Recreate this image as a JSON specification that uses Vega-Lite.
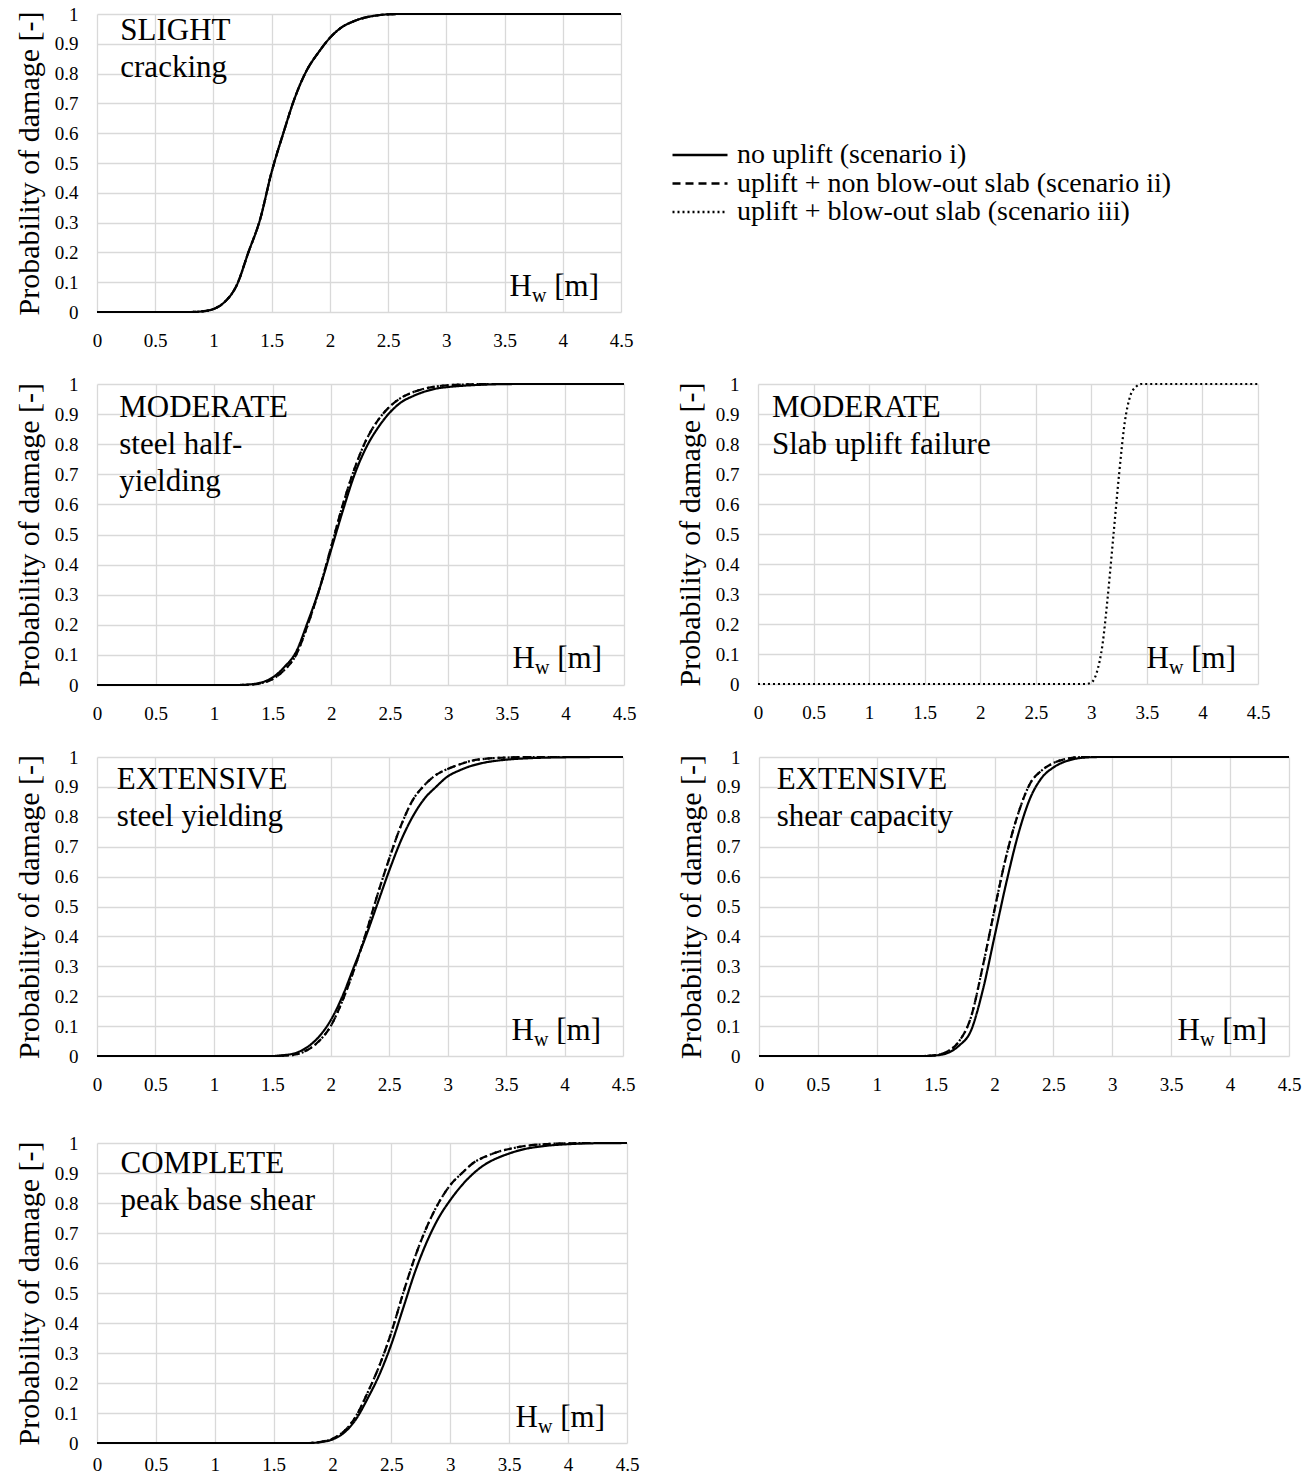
{
"$schema": "https://vega.github.io/schema/vega-lite/v6.json",
"padding": {"left": 14, "top": 5, "right": 5, "bottom": 0},
"background": "white",
"datasets": {
"S": [{"x":0,"i":0,"ii":0,"iii":0},{"x":0.5,"i":0,"ii":0,"iii":0},{"x":0.8,"i":0,"ii":0,"iii":0},{"x":0.9,"i":0.002,"ii":0.002,"iii":0.002},{"x":1,"i":0.01,"ii":0.01,"iii":0.01},{"x":1.1,"i":0.035,"ii":0.035,"iii":0.035},{"x":1.2,"i":0.09,"ii":0.09,"iii":0.09},{"x":1.3,"i":0.2,"ii":0.2,"iii":0.2},{"x":1.4,"i":0.31,"ii":0.31,"iii":0.31},{"x":1.5,"i":0.47,"ii":0.47,"iii":0.47},{"x":1.6,"i":0.6,"ii":0.6,"iii":0.6},{"x":1.7,"i":0.72,"ii":0.72,"iii":0.72},{"x":1.8,"i":0.81,"ii":0.81,"iii":0.81},{"x":1.9,"i":0.87,"ii":0.87,"iii":0.87},{"x":2,"i":0.92,"ii":0.92,"iii":0.92},{"x":2.1,"i":0.955,"ii":0.955,"iii":0.955},{"x":2.2,"i":0.975,"ii":0.975,"iii":0.975},{"x":2.3,"i":0.988,"ii":0.988,"iii":0.988},{"x":2.4,"i":0.995,"ii":0.995,"iii":0.995},{"x":2.5,"i":0.999,"ii":0.999,"iii":0.999},{"x":2.6,"i":1,"ii":1,"iii":1},{"x":4.5,"i":1,"ii":1,"iii":1}],
"M1": [{"x":0,"i":0,"ii":0,"iii":0},{"x":1.2,"i":0,"ii":0,"iii":0},{"x":1.3,"i":0.002,"ii":0.001,"iii":0.001},{"x":1.4,"i":0.008,"ii":0.006,"iii":0.006},{"x":1.5,"i":0.025,"ii":0.02,"iii":0.02},{"x":1.6,"i":0.06,"ii":0.05,"iii":0.05},{"x":1.7,"i":0.11,"ii":0.1,"iii":0.1},{"x":1.8,"i":0.21,"ii":0.2,"iii":0.2},{"x":1.9,"i":0.32,"ii":0.32,"iii":0.32},{"x":2,"i":0.45,"ii":0.46,"iii":0.46},{"x":2.1,"i":0.58,"ii":0.6,"iii":0.6},{"x":2.2,"i":0.7,"ii":0.72,"iii":0.72},{"x":2.3,"i":0.79,"ii":0.815,"iii":0.815},{"x":2.4,"i":0.855,"ii":0.88,"iii":0.88},{"x":2.5,"i":0.905,"ii":0.925,"iii":0.925},{"x":2.6,"i":0.94,"ii":0.955,"iii":0.955},{"x":2.7,"i":0.96,"ii":0.973,"iii":0.973},{"x":2.8,"i":0.975,"ii":0.985,"iii":0.985},{"x":2.9,"i":0.985,"ii":0.992,"iii":0.992},{"x":3,"i":0.99,"ii":0.996,"iii":0.996},{"x":3.2,"i":0.996,"ii":0.999,"iii":0.999},{"x":3.4,"i":0.999,"ii":1,"iii":1},{"x":3.6,"i":1,"ii":1,"iii":1},{"x":4.5,"i":1,"ii":1,"iii":1}],
"M2": [{"x":0,"iii":0},{"x":2.95,"iii":0},{"x":3,"iii":0.005},{"x":3.05,"iii":0.04},{"x":3.1,"iii":0.13},{"x":3.15,"iii":0.3},{"x":3.2,"iii":0.5},{"x":3.25,"iii":0.7},{"x":3.3,"iii":0.87},{"x":3.35,"iii":0.96},{"x":3.4,"iii":0.99},{"x":3.45,"iii":1},{"x":4.5,"iii":1}],
"E1": [{"x":0,"i":0,"ii":0,"iii":0},{"x":1.5,"i":0,"ii":0,"iii":0},{"x":1.6,"i":0.003,"ii":0.001,"iii":0.001},{"x":1.7,"i":0.01,"ii":0.005,"iii":0.005},{"x":1.8,"i":0.03,"ii":0.02,"iii":0.02},{"x":1.9,"i":0.065,"ii":0.05,"iii":0.05},{"x":2,"i":0.12,"ii":0.1,"iii":0.1},{"x":2.1,"i":0.2,"ii":0.185,"iii":0.185},{"x":2.2,"i":0.3,"ii":0.29,"iii":0.29},{"x":2.3,"i":0.4,"ii":0.41,"iii":0.41},{"x":2.4,"i":0.51,"ii":0.54,"iii":0.54},{"x":2.5,"i":0.62,"ii":0.66,"iii":0.66},{"x":2.6,"i":0.72,"ii":0.77,"iii":0.77},{"x":2.7,"i":0.8,"ii":0.855,"iii":0.855},{"x":2.8,"i":0.86,"ii":0.905,"iii":0.905},{"x":2.9,"i":0.9,"ii":0.94,"iii":0.94},{"x":3,"i":0.935,"ii":0.96,"iii":0.96},{"x":3.1,"i":0.955,"ii":0.975,"iii":0.975},{"x":3.2,"i":0.97,"ii":0.987,"iii":0.987},{"x":3.3,"i":0.98,"ii":0.993,"iii":0.993},{"x":3.5,"i":0.991,"ii":0.998,"iii":0.998},{"x":3.7,"i":0.996,"ii":1,"iii":1},{"x":4,"i":0.999,"ii":1,"iii":1},{"x":4.3,"i":1,"ii":1,"iii":1},{"x":4.5,"i":1,"ii":1,"iii":1}],
"E2": [{"x":0,"i":0,"ii":0,"iii":0},{"x":1.4,"i":0,"ii":0,"iii":0},{"x":1.5,"i":0.002,"ii":0.003,"iii":0.003},{"x":1.6,"i":0.01,"ii":0.015,"iii":0.015},{"x":1.7,"i":0.035,"ii":0.05,"iii":0.05},{"x":1.8,"i":0.085,"ii":0.13,"iii":0.13},{"x":1.9,"i":0.22,"ii":0.3,"iii":0.3},{"x":2,"i":0.4,"ii":0.49,"iii":0.49},{"x":2.1,"i":0.58,"ii":0.67,"iii":0.67},{"x":2.2,"i":0.74,"ii":0.81,"iii":0.81},{"x":2.3,"i":0.86,"ii":0.91,"iii":0.91},{"x":2.4,"i":0.93,"ii":0.955,"iii":0.955},{"x":2.5,"i":0.965,"ii":0.98,"iii":0.98},{"x":2.6,"i":0.985,"ii":0.993,"iii":0.993},{"x":2.7,"i":0.995,"ii":0.999,"iii":0.999},{"x":2.8,"i":0.999,"ii":1,"iii":1},{"x":2.9,"i":1,"ii":1,"iii":1},{"x":4.5,"i":1,"ii":1,"iii":1}],
"C": [{"x":0,"i":0,"ii":0,"iii":0},{"x":1.8,"i":0,"ii":0,"iii":0},{"x":1.9,"i":0.003,"ii":0.004,"iii":0.004},{"x":2,"i":0.012,"ii":0.014,"iii":0.014},{"x":2.1,"i":0.035,"ii":0.04,"iii":0.04},{"x":2.2,"i":0.08,"ii":0.09,"iii":0.09},{"x":2.3,"i":0.15,"ii":0.17,"iii":0.17},{"x":2.4,"i":0.23,"ii":0.26,"iii":0.26},{"x":2.5,"i":0.33,"ii":0.37,"iii":0.37},{"x":2.6,"i":0.45,"ii":0.5,"iii":0.5},{"x":2.7,"i":0.57,"ii":0.62,"iii":0.62},{"x":2.8,"i":0.67,"ii":0.72,"iii":0.72},{"x":2.9,"i":0.75,"ii":0.8,"iii":0.8},{"x":3,"i":0.81,"ii":0.86,"iii":0.86},{"x":3.1,"i":0.86,"ii":0.9,"iii":0.9},{"x":3.2,"i":0.9,"ii":0.935,"iii":0.935},{"x":3.3,"i":0.93,"ii":0.955,"iii":0.955},{"x":3.4,"i":0.95,"ii":0.97,"iii":0.97},{"x":3.5,"i":0.965,"ii":0.98,"iii":0.98},{"x":3.6,"i":0.977,"ii":0.988,"iii":0.988},{"x":3.8,"i":0.99,"ii":0.996,"iii":0.996},{"x":4,"i":0.996,"ii":0.999,"iii":0.999},{"x":4.2,"i":0.999,"ii":1,"iii":1},{"x":4.5,"i":1,"ii":1,"iii":1}]
},
"spacing": 40,
"vconcat": [
{"spacing": 25, "vconcat": [
{"width": 524, "height": 298, "layer": [
 {"data": {"name": "S"}, "transform": [{"fold": ["i","ii","iii"], "as": ["s","p"]}, {"filter": {"field": "p", "valid": true}}],
  "mark": {"type": "line", "color": "black", "strokeWidth": 2.2, "interpolate": "monotone"},
  "encoding": {
   "x": {"field": "x", "type": "quantitative", "scale": {"domain": [0, 4.5], "nice": false, "zero": false}, "axis": {"format": ".1~f", "title": null}},
   "y": {"field": "p", "type": "quantitative", "scale": {"domain": [0, 1], "nice": false}, "axis": {"format": ".1~f", "title": "Probability of damage [-]"}},
   "strokeDash": {"field": "s", "type": "nominal", "scale": {"domain": ["i","ii","iii"], "range": [[1,0],[8,5],[2,3]]}, "legend": {"orient": "none", "legendX": 574, "legendY": 129, "title": null, "labelExpr": "datum.label == 'i' ? 'no uplift (scenario i)' : datum.label == 'ii' ? 'uplift + non blow-out slab (scenario ii)' : 'uplift + blow-out slab (scenario iii)'"}}
  }},
 {"data": {"values": [{}]}, "mark": {"type": "text", "text": ["SLIGHT", "cracking"], "align": "left", "baseline": "alphabetic", "fontSize": 31, "lineHeight": 37, "font": "Liberation Serif", "color": "black"}, "encoding": {"x": {"datum": 0.2}, "y": {"datum": 0.913}}},
 {"data": {"values": [{}]}, "mark": {"type": "text", "text": "H", "align": "right", "baseline": "alphabetic", "fontSize": 31, "dx": -89, "font": "Liberation Serif", "color": "black"}, "encoding": {"x": {"datum": 4.5}, "y": {"datum": 0.055}}},
 {"data": {"values": [{}]}, "mark": {"type": "text", "text": "w", "align": "right", "baseline": "alphabetic", "fontSize": 20, "dx": -74.5, "dy": 6, "font": "Liberation Serif", "color": "black"}, "encoding": {"x": {"datum": 4.5}, "y": {"datum": 0.055}}},
 {"data": {"values": [{}]}, "mark": {"type": "text", "text": "[m]", "align": "right", "baseline": "alphabetic", "fontSize": 31, "dx": -22, "font": "Liberation Serif", "color": "black"}, "encoding": {"x": {"datum": 4.5}, "y": {"datum": 0.055}}}
]},
{"spacing": 39, "hconcat": [
{"width": 527, "height": 301, "layer": [
 {"data": {"name": "M1"}, "transform": [{"fold": ["i","ii","iii"], "as": ["s","p"]}, {"filter": {"field": "p", "valid": true}}],
  "mark": {"type": "line", "color": "black", "strokeWidth": 2.2, "interpolate": "monotone"},
  "encoding": {
   "x": {"field": "x", "type": "quantitative", "scale": {"domain": [0, 4.5], "nice": false, "zero": false}, "axis": {"format": ".1~f", "title": null}},
   "y": {"field": "p", "type": "quantitative", "scale": {"domain": [0, 1], "nice": false}, "axis": {"format": ".1~f", "title": "Probability of damage [-]"}},
   "strokeDash": {"field": "s", "type": "nominal", "scale": {"domain": ["i","ii","iii"], "range": [[1,0],[8,5],[2,3]]}, "legend": {"orient": "none", "legendX": 574, "legendY": 129, "title": null, "labelExpr": "datum.label == 'i' ? 'no uplift (scenario i)' : datum.label == 'ii' ? 'uplift + non blow-out slab (scenario ii)' : 'uplift + blow-out slab (scenario iii)'"}}
  }},
 {"data": {"values": [{}]}, "mark": {"type": "text", "text": ["MODERATE", "steel half-", "yielding"], "align": "left", "baseline": "alphabetic", "fontSize": 31, "lineHeight": 37, "font": "Liberation Serif", "color": "black"}, "encoding": {"x": {"datum": 0.19}, "y": {"datum": 0.89}}},
 {"data": {"values": [{}]}, "mark": {"type": "text", "text": "H", "align": "right", "baseline": "alphabetic", "fontSize": 31, "dx": -89, "font": "Liberation Serif", "color": "black"}, "encoding": {"x": {"datum": 4.5}, "y": {"datum": 0.055}}},
 {"data": {"values": [{}]}, "mark": {"type": "text", "text": "w", "align": "right", "baseline": "alphabetic", "fontSize": 20, "dx": -74.5, "dy": 6, "font": "Liberation Serif", "color": "black"}, "encoding": {"x": {"datum": 4.5}, "y": {"datum": 0.055}}},
 {"data": {"values": [{}]}, "mark": {"type": "text", "text": "[m]", "align": "right", "baseline": "alphabetic", "fontSize": 31, "dx": -22, "font": "Liberation Serif", "color": "black"}, "encoding": {"x": {"datum": 4.5}, "y": {"datum": 0.055}}}
]},
{"width": 500, "height": 300, "layer": [
 {"data": {"name": "M2"}, "transform": [{"fold": ["i","ii","iii"], "as": ["s","p"]}, {"filter": {"field": "p", "valid": true}}],
  "mark": {"type": "line", "color": "black", "strokeWidth": 2.2, "interpolate": "monotone"},
  "encoding": {
   "x": {"field": "x", "type": "quantitative", "scale": {"domain": [0, 4.5], "nice": false, "zero": false}, "axis": {"format": ".1~f", "title": null}},
   "y": {"field": "p", "type": "quantitative", "scale": {"domain": [0, 1], "nice": false}, "axis": {"format": ".1~f", "title": "Probability of damage [-]"}},
   "strokeDash": {"field": "s", "type": "nominal", "scale": {"domain": ["i","ii","iii"], "range": [[1,0],[8,5],[2,3]]}, "legend": {"orient": "none", "legendX": 574, "legendY": 129, "title": null, "labelExpr": "datum.label == 'i' ? 'no uplift (scenario i)' : datum.label == 'ii' ? 'uplift + non blow-out slab (scenario ii)' : 'uplift + blow-out slab (scenario iii)'"}}
  }},
 {"data": {"values": [{}]}, "mark": {"type": "text", "text": ["MODERATE", "Slab uplift failure"], "align": "left", "baseline": "alphabetic", "fontSize": 31, "lineHeight": 37, "font": "Liberation Serif", "color": "black"}, "encoding": {"x": {"datum": 0.126}, "y": {"datum": 0.89}}},
 {"data": {"values": [{}]}, "mark": {"type": "text", "text": "H", "align": "right", "baseline": "alphabetic", "fontSize": 31, "dx": -89, "font": "Liberation Serif", "color": "black"}, "encoding": {"x": {"datum": 4.5}, "y": {"datum": 0.055}}},
 {"data": {"values": [{}]}, "mark": {"type": "text", "text": "w", "align": "right", "baseline": "alphabetic", "fontSize": 20, "dx": -74.5, "dy": 6, "font": "Liberation Serif", "color": "black"}, "encoding": {"x": {"datum": 4.5}, "y": {"datum": 0.055}}},
 {"data": {"values": [{}]}, "mark": {"type": "text", "text": "[m]", "align": "right", "baseline": "alphabetic", "fontSize": 31, "dx": -22, "font": "Liberation Serif", "color": "black"}, "encoding": {"x": {"datum": 4.5}, "y": {"datum": 0.055}}}
]}
]},
{"spacing": 41, "hconcat": [
{"width": 526, "height": 299, "layer": [
 {"data": {"name": "E1"}, "transform": [{"fold": ["i","ii","iii"], "as": ["s","p"]}, {"filter": {"field": "p", "valid": true}}],
  "mark": {"type": "line", "color": "black", "strokeWidth": 2.2, "interpolate": "monotone"},
  "encoding": {
   "x": {"field": "x", "type": "quantitative", "scale": {"domain": [0, 4.5], "nice": false, "zero": false}, "axis": {"format": ".1~f", "title": null}},
   "y": {"field": "p", "type": "quantitative", "scale": {"domain": [0, 1], "nice": false}, "axis": {"format": ".1~f", "title": "Probability of damage [-]"}},
   "strokeDash": {"field": "s", "type": "nominal", "scale": {"domain": ["i","ii","iii"], "range": [[1,0],[8,5],[2,3]]}, "legend": {"orient": "none", "legendX": 574, "legendY": 129, "title": null, "labelExpr": "datum.label == 'i' ? 'no uplift (scenario i)' : datum.label == 'ii' ? 'uplift + non blow-out slab (scenario ii)' : 'uplift + blow-out slab (scenario iii)'"}}
  }},
 {"data": {"values": [{}]}, "mark": {"type": "text", "text": ["EXTENSIVE", "steel yielding"], "align": "left", "baseline": "alphabetic", "fontSize": 31, "lineHeight": 37, "font": "Liberation Serif", "color": "black"}, "encoding": {"x": {"datum": 0.17}, "y": {"datum": 0.893}}},
 {"data": {"values": [{}]}, "mark": {"type": "text", "text": "H", "align": "right", "baseline": "alphabetic", "fontSize": 31, "dx": -89, "font": "Liberation Serif", "color": "black"}, "encoding": {"x": {"datum": 4.5}, "y": {"datum": 0.055}}},
 {"data": {"values": [{}]}, "mark": {"type": "text", "text": "w", "align": "right", "baseline": "alphabetic", "fontSize": 20, "dx": -74.5, "dy": 6, "font": "Liberation Serif", "color": "black"}, "encoding": {"x": {"datum": 4.5}, "y": {"datum": 0.055}}},
 {"data": {"values": [{}]}, "mark": {"type": "text", "text": "[m]", "align": "right", "baseline": "alphabetic", "fontSize": 31, "dx": -22, "font": "Liberation Serif", "color": "black"}, "encoding": {"x": {"datum": 4.5}, "y": {"datum": 0.055}}}
]},
{"width": 530, "height": 299, "layer": [
 {"data": {"name": "E2"}, "transform": [{"fold": ["i","ii","iii"], "as": ["s","p"]}, {"filter": {"field": "p", "valid": true}}],
  "mark": {"type": "line", "color": "black", "strokeWidth": 2.2, "interpolate": "monotone"},
  "encoding": {
   "x": {"field": "x", "type": "quantitative", "scale": {"domain": [0, 4.5], "nice": false, "zero": false}, "axis": {"format": ".1~f", "title": null}},
   "y": {"field": "p", "type": "quantitative", "scale": {"domain": [0, 1], "nice": false}, "axis": {"format": ".1~f", "title": "Probability of damage [-]"}},
   "strokeDash": {"field": "s", "type": "nominal", "scale": {"domain": ["i","ii","iii"], "range": [[1,0],[8,5],[2,3]]}, "legend": {"orient": "none", "legendX": 574, "legendY": 129, "title": null, "labelExpr": "datum.label == 'i' ? 'no uplift (scenario i)' : datum.label == 'ii' ? 'uplift + non blow-out slab (scenario ii)' : 'uplift + blow-out slab (scenario iii)'"}}
  }},
 {"data": {"values": [{}]}, "mark": {"type": "text", "text": ["EXTENSIVE", "shear capacity"], "align": "left", "baseline": "alphabetic", "fontSize": 31, "lineHeight": 37, "font": "Liberation Serif", "color": "black"}, "encoding": {"x": {"datum": 0.15}, "y": {"datum": 0.893}}},
 {"data": {"values": [{}]}, "mark": {"type": "text", "text": "H", "align": "right", "baseline": "alphabetic", "fontSize": 31, "dx": -89, "font": "Liberation Serif", "color": "black"}, "encoding": {"x": {"datum": 4.5}, "y": {"datum": 0.055}}},
 {"data": {"values": [{}]}, "mark": {"type": "text", "text": "w", "align": "right", "baseline": "alphabetic", "fontSize": 20, "dx": -74.5, "dy": 6, "font": "Liberation Serif", "color": "black"}, "encoding": {"x": {"datum": 4.5}, "y": {"datum": 0.055}}},
 {"data": {"values": [{}]}, "mark": {"type": "text", "text": "[m]", "align": "right", "baseline": "alphabetic", "fontSize": 31, "dx": -22, "font": "Liberation Serif", "color": "black"}, "encoding": {"x": {"datum": 4.5}, "y": {"datum": 0.055}}}
]}
]}
]},
{"width": 530, "height": 300, "layer": [
 {"data": {"name": "C"}, "transform": [{"fold": ["i","ii","iii"], "as": ["s","p"]}, {"filter": {"field": "p", "valid": true}}],
  "mark": {"type": "line", "color": "black", "strokeWidth": 2.2, "interpolate": "monotone"},
  "encoding": {
   "x": {"field": "x", "type": "quantitative", "scale": {"domain": [0, 4.5], "nice": false, "zero": false}, "axis": {"format": ".1~f", "title": null, "labelPadding": 12}},
   "y": {"field": "p", "type": "quantitative", "scale": {"domain": [0, 1], "nice": false}, "axis": {"format": ".1~f", "title": "Probability of damage [-]"}},
   "strokeDash": {"field": "s", "type": "nominal", "scale": {"domain": ["i","ii","iii"], "range": [[1,0],[8,5],[2,3]]}, "legend": {"orient": "none", "legendX": 574, "legendY": 129, "title": null, "labelExpr": "datum.label == 'i' ? 'no uplift (scenario i)' : datum.label == 'ii' ? 'uplift + non blow-out slab (scenario ii)' : 'uplift + blow-out slab (scenario iii)'"}}
  }},
 {"data": {"values": [{}]}, "mark": {"type": "text", "text": ["COMPLETE", "peak base shear"], "align": "left", "baseline": "alphabetic", "fontSize": 31, "lineHeight": 37, "font": "Liberation Serif", "color": "black"}, "encoding": {"x": {"datum": 0.2}, "y": {"datum": 0.9}}},
 {"data": {"values": [{}]}, "mark": {"type": "text", "text": "H", "align": "right", "baseline": "alphabetic", "fontSize": 31, "dx": -89, "font": "Liberation Serif", "color": "black"}, "encoding": {"x": {"datum": 4.5}, "y": {"datum": 0.055}}},
 {"data": {"values": [{}]}, "mark": {"type": "text", "text": "w", "align": "right", "baseline": "alphabetic", "fontSize": 20, "dx": -74.5, "dy": 6, "font": "Liberation Serif", "color": "black"}, "encoding": {"x": {"datum": 4.5}, "y": {"datum": 0.055}}},
 {"data": {"values": [{}]}, "mark": {"type": "text", "text": "[m]", "align": "right", "baseline": "alphabetic", "fontSize": 31, "dx": -22, "font": "Liberation Serif", "color": "black"}, "encoding": {"x": {"datum": 4.5}, "y": {"datum": 0.055}}}
]}
],
"config": {
 "view": {"stroke": null},
 "font": "Liberation Serif",
 "axis": {"domain": false, "ticks": false, "grid": true, "gridColor": "#d9d9d9", "gridWidth": 1.3, "labelFont": "Liberation Serif", "labelFontSize": 19, "labelColor": "black", "labelPadding": 19, "labelOverlap": false, "labelFlush": false, "titleFont": "Liberation Serif", "titleFontSize": 30, "titleFontWeight": "normal", "titleColor": "black", "titlePadding": 10},
 "axisX": {"tickCount": 9},
 "axisY": {"tickCount": 10},
 "legend": {"labelFont": "Liberation Serif", "labelFontSize": 28, "labelColor": "black", "labelLimit": 700, "symbolType": "stroke", "symbolSize": 3025, "symbolStrokeWidth": 2.5, "symbolStrokeColor": "black", "labelOffset": 8, "rowPadding": 0.5, "clipHeight": 24}
}
}
